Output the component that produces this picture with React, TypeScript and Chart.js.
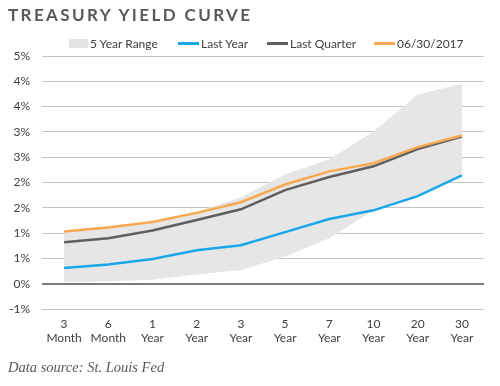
import React, { useEffect, useRef } from "react";
import { Chart, registerables } from "chart.js";

Chart.register(...registerables);

const categories: string[][] = [
  ["3", "Month"], ["6", "Month"], ["1", "Year"], ["2", "Year"], ["3", "Year"],
  ["5", "Year"], ["7", "Year"], ["10", "Year"], ["20", "Year"], ["30", "Year"],
];
const lastYear = [0.31, 0.38, 0.49, 0.66, 0.76, 1.02, 1.28, 1.45, 1.73, 2.14];
const lastQuarter = [0.82, 0.9, 1.05, 1.26, 1.47, 1.85, 2.11, 2.32, 2.66, 2.91];
const current = [1.03, 1.11, 1.22, 1.4, 1.61, 1.96, 2.22, 2.38, 2.7, 2.93];
const rangeHigh = [1.05, 1.14, 1.24, 1.42, 1.71, 2.16, 2.46, 3.01, 3.74, 3.95];
const rangeLow = [0.03, 0.05, 0.08, 0.18, 0.27, 0.54, 0.9, 1.45, 1.73, 2.14];

const FONT = "Lato, 'Open Sans', sans-serif";
const TEXT = "#404040";

const legendItems = [
  { label: "5 Year Range", kind: "box", color: "#e3e3e3", left: 69 },
  { label: "Last Year", kind: "line", color: "#1aa7ea", left: 178 },
  { label: "Last Quarter", kind: "line", color: "#5f5f5f", left: 267 },
  { label: "06/30/2017", kind: "line", color: "#f8a950", left: 374 },
];

export default function App() {
  const ref = useRef<HTMLCanvasElement | null>(null);
  useEffect(() => {
    if (!ref.current) return;
    const chart = new Chart(ref.current, {
      type: "line",
      data: {
        labels: categories,
        datasets: [
          { label: "06/30/2017", data: current, borderColor: "#f8a950", borderWidth: 2.5, pointRadius: 0, tension: 0, fill: false, order: 1 },
          { label: "Last Quarter", data: lastQuarter, borderColor: "#5f5f5f", borderWidth: 2.5, pointRadius: 0, tension: 0, fill: false, order: 2 },
          { label: "Last Year", data: lastYear, borderColor: "#1aa7ea", borderWidth: 2.5, pointRadius: 0, tension: 0, fill: false, order: 3 },
          { label: "5 Year Range High", data: rangeHigh, borderColor: "rgba(0,0,0,0)", backgroundColor: "#e6e6e6", borderWidth: 0, pointRadius: 0, tension: 0, fill: "+1", order: 10 },
          { label: "5 Year Range Low", data: rangeLow, borderColor: "rgba(0,0,0,0)", borderWidth: 0, pointRadius: 0, tension: 0, fill: false, order: 11 },
        ],
      },
      options: {
        responsive: false,
        animation: false,
        layout: { padding: { top: 56, right: 16, bottom: 0, left: 0 } },
        plugins: { legend: { display: false }, tooltip: { enabled: false }, title: { display: false } },
        scales: {
          x: {
            offset: true,
            grid: { display: false },
            border: { display: false },
            ticks: { color: TEXT, font: { family: FONT, size: 12 }, padding: 0, maxRotation: 0, autoSkip: false },
            afterFit: (s: any) => { s.height = 77; },
          },
          y: {
            min: -0.5,
            max: 4.5,
            border: { display: false },
            grid: {
              drawTicks: false,
              color: (c: any) => (c.tick && c.tick.value === 0 ? "#7a7a7a" : "#c4c4c4"),
              lineWidth: (c: any) => (c.tick && c.tick.value === 0 ? 2 : 1),
            },
            ticks: {
              stepSize: 0.5,
              padding: 12,
              color: TEXT,
              font: { family: FONT, size: 12 },
              callback: (v: any) => {
                const n = Number(v);
                const r = Math.sign(n) * Math.round(Math.abs(n));
                return (r === 0 ? 0 : r) + "%";
              },
            },
            afterFit: (s: any) => { s.width = 42; },
          },
        },
      },
    } as any);
    return () => chart.destroy();
  }, []);

  return (
    <div style={{ position: "fixed", left: 0, top: 0, width: 500, height: 386, background: "#fff", overflow: "hidden" }}>
      <canvas ref={ref} width={500} height={386} style={{ position: "absolute", left: 0, top: 0, display: "block" }} />
      <div style={{ position: "absolute", left: 8, top: 4, fontFamily: FONT, fontSize: 17, fontWeight: 700, letterSpacing: 2.4, color: "#595959", whiteSpace: "nowrap" }}>
        TREASURY YIELD CURVE
      </div>
      {legendItems.map((it) => (
        <div key={it.label} style={{ position: "absolute", left: it.left, top: 35, height: 16, display: "flex", alignItems: "center", fontFamily: FONT, fontSize: 12, color: TEXT, whiteSpace: "nowrap" }}>
          <span style={{ display: "inline-block", width: it.kind === "box" ? 19 : 21, height: it.kind === "box" ? 9 : 3, background: it.color, marginRight: 2 }} />
          {it.label}
        </div>
      ))}
      <div style={{ position: "absolute", left: 8, top: 359, fontFamily: "'Liberation Serif', 'DejaVu Serif', serif", fontStyle: "italic", fontSize: 14.5, color: "#595959", whiteSpace: "nowrap" }}>
        Data source: St. Louis Fed
      </div>
    </div>
  );
}
